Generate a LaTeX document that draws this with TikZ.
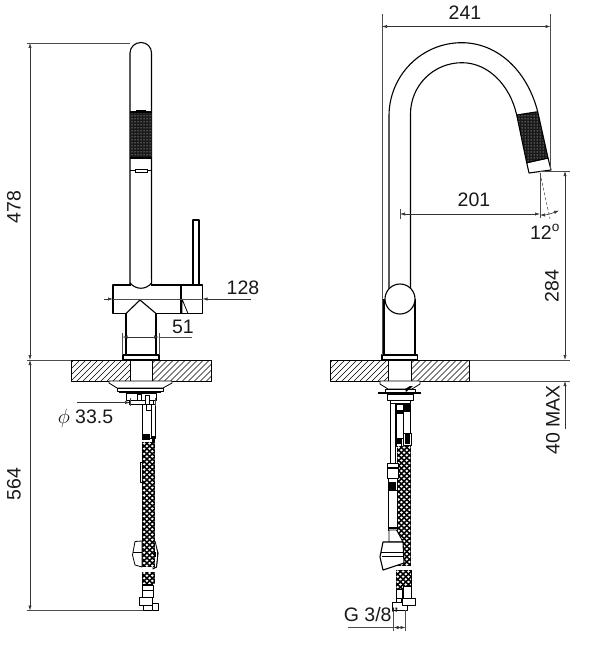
\documentclass[tikz,border=0pt]{standalone}
\usepackage{fontspec}
\setmainfont{Liberation Sans}
\usetikzlibrary{arrows.meta,patterns}
\tikzset{
  part/.style={draw=black,line width=1.1pt,fill=white,line join=round},
  thin part/.style={draw=black,line width=0.8pt,fill=white,line join=round},
  ext/.style={draw=black!70,line width=0.55pt},
  dimline/.style={draw=black!80,line width=0.6pt,{Latex[length=5pt,width=3.2pt]}-{Latex[length=5pt,width=3.2pt]}},
  dimend/.style={draw=black!80,line width=0.6pt,-{Latex[length=5pt,width=3.2pt]}},
  lab/.style={font=\fontsize{19.5}{21}\selectfont,inner sep=0pt,text=black!90},
  hatchln/.style={draw=black,line width=0.6pt},
}
\newcommand{\braid}[4]{% x1 x2 y1 y2
  \fill[black] (#1,#3) rectangle (#2,#4);
  \begin{scope}
    \clip (#1+0.6,#3) rectangle (#2-0.6,#4);
    \foreach \j in {0,...,48}{
      \pgfmathsetmacro{\yy}{#3+1.5+\j*2.6}
      \pgfmathsetmacro{\off}{mod(\j,2)*2.7}
      \foreach \i in {0,...,3}{
        \pgfmathsetmacro{\xx}{#1+2.2+\off+\i*5.4}
        \fill[white] (\xx-1.5,\yy) -- (\xx,\yy-1.3) -- (\xx+1.5,\yy) -- (\xx,\yy+1.3) -- cycle;
      }
    }
  \end{scope}
}
\newcommand{\hatchbox}[4]{%
  \begin{scope}
    \clip (#1,#3) rectangle (#2,#4);
    \foreach \k in {0,...,30}{
      \draw[hatchln] (#1+\k*6-24,#4) -- ++(24,-24);
    }
  \end{scope}
  \draw[thin part,fill=none] (#1,#3) rectangle (#2,#4);
}
\begin{document}
\begin{tikzpicture}[x=1pt,y=-1pt]
\useasboundingbox (0,0) rectangle (600,650);
\fill[white] (0,0) rectangle (600,650);

% ---------- coordinates for the dimensions ----------
\coordinate (a478t) at (30,43);
\coordinate (a478b) at (30,360);
\coordinate (a564b) at (30,610.5);
\coordinate (e1) at (130,43);
\coordinate (e2) at (71,360);
\coordinate (e3) at (143,610.5);
\coordinate (e1s) at (27,43);
\coordinate (e2s) at (27,360);
\coordinate (e3s) at (27,610.5);
\coordinate (d128a) at (104,299);
\coordinate (d128b) at (113,299);
\coordinate (d128c) at (202.5,299);
\coordinate (d128d) at (251,299);
\coordinate (d51a) at (122.5,337);
\coordinate (d51b) at (159,337);
\coordinate (d51c) at (192,337);
\coordinate (p1) at (77,402.5);
\coordinate (p2) at (130,402.5);
\coordinate (p3) at (155,402.5);
\coordinate (d241a) at (382,26.5);
\coordinate (d241b) at (550.5,26.5);
\coordinate (d241at) at (382,14);
\coordinate (d241bt) at (550.5,14);
\coordinate (d241ab) at (382,355);
\coordinate (d241bb) at (550.5,170);
\coordinate (d201a) at (400,214);
\coordinate (d201b) at (540,214);
\coordinate (d201at) at (400,209);
\coordinate (d201ab) at (400,219);
\coordinate (t1) at (540,173);
\coordinate (t2) at (540,218);
\coordinate (t3) at (550,219);
\coordinate (ang1) at (540,215);
\coordinate (ang2) at (559,210.5);
\coordinate (d284t) at (565,171);
\coordinate (d284b) at (565,360);
\coordinate (d284e) at (570,171);
\coordinate (d284f) at (540,171);
\coordinate (c1) at (469.5,360);
\coordinate (c1e) at (570,360);
\coordinate (c2) at (469.5,381);
\coordinate (c2e) at (570,381);
\coordinate (d40) at (565,429);
\coordinate (d40b) at (565,381);
\coordinate (g1) at (393.5,610);
\coordinate (g2) at (405.5,610);
\coordinate (g1b) at (393.5,631);
\coordinate (g2b) at (405.5,631);
\coordinate (ga) at (348,627.5);
\coordinate (gb) at (393.5,627.5);
\coordinate (gc) at (405.5,627.5);

% ---------- LEFT VIEW ----------
% spout
\draw[part] (130,285) -- (130,53) .. controls (130,47) and (135,42.5) .. (141,42.5)
   .. controls (147,42.5) and (151.5,47) .. (151.5,53) -- (151.5,285);
% knurl
\fill[black!90] (130,112) rectangle (151.5,158);
\fill[pattern=dots,pattern color=white] (130,112) rectangle (151.5,158);
\draw[line width=1.1pt] (130,112) -- (151.5,112) (130,158) -- (151.5,158);
\draw[line width=1pt] (136,111) -- (146,111);
\draw[line width=1.8pt] (130,170.5) -- (151.5,170.5);
\draw[line width=0.8pt,fill=white] (135,169.5) rectangle (147,172.5);
% body
\draw[part] (113,285) rectangle (181,313.5);
\fill[white] (127,311) -- (140,300) -- (155,311) -- (155,315) -- (127,315) -- cycle;
\draw[part,fill=none] (126,313.5) -- (140,300) -- (156,313.5);
\draw[part,fill=none] (126,313) -- (126,355) (156,313) -- (156,355);
\fill[white] (131,279) rectangle (150.5,285.5);
\draw[part,fill=none] (130,283) .. controls (136,290) and (146,290) .. (151.5,283);
% lever
\draw[part] (193,220) rectangle (199,285);
\draw[part] (181,285) rectangle (202.5,313.5);
\draw[thin part] (182,299) -- (188,313.5) -- (182,313.5) -- cycle;
% mounting ring
\draw[part] (123,355) rectangle (159,360);
% counter top
\hatchbox{71}{130}{360}{381}
\hatchbox{152.5}{211}{360}{381}
\draw[thin part] (130,360) rectangle (152.5,381);
% fittings underneath
\draw[thin part] (109,381) -- (172,381) -- (172,383) -- (163,388) -- (117,388) -- (109,383) -- cycle;
\draw[thin part] (117,388) rectangle (163,391);
\draw[line width=1.4pt] (119,392.5) -- (161,392.5);
\draw[thin part] (126,393) rectangle (156,400);
\draw[thin part] (129,400) rectangle (153,404);
\draw[thin part] (137,394) rectangle (141,400);
\draw[thin part] (145,395) rectangle (149,404);
\draw[thin part] (142,404) rectangle (155,438);
\draw[thin part] (146,404) rectangle (151,410);
\draw[line width=0.8pt] (151,410) -- (151,438);
\fill[black] (142,434) rectangle (150,440);
\fill[black] (152,436) rectangle (155,442);
% hose
\draw[thin part] (140,462) rectangle (143,482);
% right clip half (behind the hose)
\draw[thin part] (153,541) -- (158,553) -- (156.5,567) -- (153,569) -- cycle;
\braid{142}{155}{442}{567}
\fill[white] (155,542) -- (157.2,553) -- (156,566) -- (155,566) -- cycle;
\draw[line width=0.8pt] (155,541) -- (158,553) -- (156.5,567) -- (154,568);
\fill[black] (154,552) rectangle (158,557);
\draw[white,line width=0.6pt] (156,552) -- (156,557);
% left clip half
\draw[thin part] (135,541.5) -- (142,541) -- (142,567) -- (135,565) -- (132.5,555) -- cycle;
\draw[line width=0.8pt] (133,552.5) -- (142,552.5);
\braid{142}{155}{571.5}{584}
\draw[thin part] (142,585) rectangle (153,597);
\draw[line width=0.8pt] (142,590) -- (153,590);
\fill[black] (142,584) rectangle (153,586);
\draw[part,line width=1pt] (139.5,597.5) rectangle (152,605.5);
\draw[part,line width=1pt] (143,605) rectangle (158,610.5);
\draw[part,line width=1pt] (152,603) rectangle (158,610.5);

% ---------- RIGHT VIEW ----------
% outer and inner spout
\draw[line width=1.1pt] (389,300) -- (389,116) .. controls (389,75.5) and (421.5,42.7) .. (461.7,42.7)
   .. controls (497,42.7) and (527,70) .. (537.7,111.7);
\draw[line width=1.1pt] (410.5,300) -- (410.5,114) .. controls (410.5,85.5) and (433.5,62.7) .. (462,62.7)
   .. controls (488,62.7) and (510,85) .. (516.7,115);
% tip
\draw[part] (526.7,162.7) -- (529,173) -- (551,170) -- (548,158) -- cycle;
\fill[black!90] (516.7,115) -- (537.7,111.7) -- (548,158) -- (526.7,162.7) -- cycle;
\fill[pattern=dots,pattern color=white] (516.7,115) -- (537.7,111.7) -- (548,158) -- (526.7,162.7) -- cycle;
\draw[line width=1.1pt] (516.7,115) -- (537.7,111.7) -- (548,158) -- (526.7,162.7) -- cycle;
% body
\draw[part] (384,299) -- (384,355) -- (415,355) -- (415,299);
\draw[part] (400,299) circle [radius=15];
\draw[part] (382,355) rectangle (417.5,360);
% counter top
\hatchbox{330}{388}{360}{381}
\hatchbox{411.5}{469.5}{360}{381}
\draw[thin part] (388,360) rectangle (411.5,381);
% fittings underneath
\draw[thin part] (380,381) -- (420,381) -- (420,384) -- (412,389) -- (388,389) -- (380,384) -- cycle;
\draw[line width=1.4pt] (378,393) -- (421,393);
\draw[thin part] (385,389) rectangle (415,392);
\draw[thin part] (387,394) rectangle (413,400);
\draw[thin part] (390,400) rectangle (410,403.5);
\fill[black] (405,389) -- (410,386) -- (413,386) -- (406,392) -- cycle;
\draw[thin part] (390,403) rectangle (395,463);
\draw[thin part] (396.5,404) rectangle (403,438);
\draw[thin part] (403,404) rectangle (410,433);
\fill[black] (396.5,410) rectangle (403,414);
\fill[black] (403,404) rectangle (410,412);
\draw[thin part] (396.5,438) rectangle (401,446);
\fill[black] (397,438) rectangle (401,444);
\draw[thin part] (403,433) rectangle (411,445);
\fill[black] (405,433) rectangle (410,444);
% hoses
\braid{396.5}{411}{446}{566}
% side fitting
\draw[thin part] (387,463) rectangle (398,478);
\fill[black] (387,467) rectangle (398,469);
\draw[thin part] (388,478) rectangle (397,490);
\fill[black] (389,482) rectangle (396,490);
\draw[thin part] (388,490) rectangle (397,530);
\draw[line width=1.4pt] (387.5,528) -- (397.5,528);
\draw[thin part] (389,530) -- (396.5,530) -- (403,542) -- (389,542) -- cycle;
% clip
\draw[part] (383,542) -- (403,542) -- (404,563) -- (383,570) -- (380,557) -- cycle;
\draw[line width=0.8pt] (381,552) -- (403.5,552);
\draw[line width=0.8pt] (382,556) -- (403.5,556);
\braid{395.5}{411.5}{570}{597}
\draw[thin part] (396,589) rectangle (402,598);
\draw[thin part] (403,586) rectangle (411,598);
\draw[part,line width=1pt] (392.5,602) rectangle (407,610);
\draw[part,line width=1pt] (396,598) rectangle (401,602);
\draw[part,line width=1pt] (402,598) rectangle (415,605);

% ---------- DIMENSIONS ----------
\draw[ext] (e1s) -- (e1);
\draw[ext] (e2s) -- (e2);
\draw[ext] (e3s) -- (e3);
\draw[dimline] (a478t) -- (a478b);
\draw[dimline] (a478b) -- (a564b);
\draw[dimend] (d128a) -- (d128b);
\draw[dimend] (d128d) -- (d128c);
\draw[ext] (d128b) -- (d128c);
\draw[ext] (122.5,333) -- (122.5,355) (159,333) -- (159,355);
\draw[dimline] (d51a) -- (d51b);
\draw[ext] (d51b) -- (d51c);
\draw[dimend] (p1) -- (p2);
\draw[ext] (130,398) -- (130,406) (155,398) -- (155,406);
\draw[ext] (d241at) -- (d241ab);
\draw[ext] (d241bt) -- (d241bb);
\draw[dimline] (d241a) -- (d241b);
\draw[ext] (d201at) -- (d201ab);
\draw[dimline] (d201a) -- (d201b);
\draw[ext] (t1) -- (t2);
\draw[ext,densely dashed] (t1) -- (t3);
\draw[dimline] (ang1) .. controls (546,215) and (553,213) .. (ang2);
\draw[ext] (d284f) -- (d284e);
\draw[dimline] (d284t) -- (d284b);
\draw[ext] (c1) -- (c1e);
\draw[ext] (c2) -- (c2e);
\draw[dimend] (d40) -- (d40b);
\draw[ext] (g1) -- (g1b);
\draw[ext] (g2) -- (g2b);
\draw[ext] (ga) -- (gb);
\draw[dimline] (gb) -- (gc);

% ---------- LABELS ----------
\node[lab,rotate=90] (l478) at (14,207) {478};
\node[lab,rotate=90] (l564) at (14,484) {564};
\node[lab] (l128) at (243,288) {128};
\node[lab] (l51) at (183,327) {51};
\node[lab] (l335) at (85.5,418) {$\phi$ 33.5};
\node[lab] (l241) at (465,13) {241};
\node[lab] (l201) at (474,200) {201};
\node[lab] (l12) at (545,232) {12$^{\mathrm{o}}$};
\node[lab,rotate=90] (l284) at (552,286) {284};
\node[lab,rotate=90] (l40) at (553,420) {40 MAX};
\node[lab] (lg) at (371,615) {G 3/8"};
\end{tikzpicture}
\end{document}
